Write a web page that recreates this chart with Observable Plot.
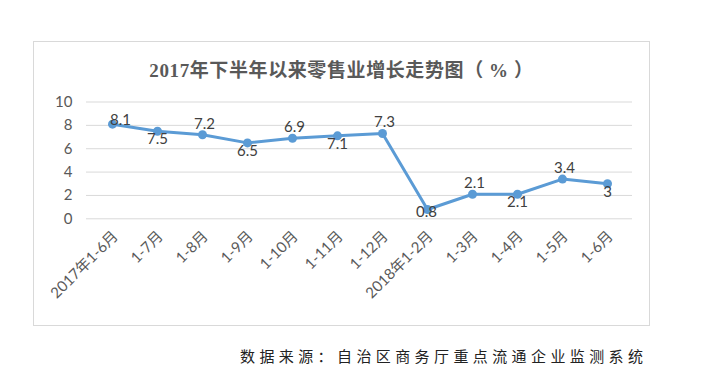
<!DOCTYPE html>
<html>
<head>
<meta charset="utf-8">
<script src="https://cdn.jsdelivr.net/npm/d3@7"></script>
<script src="https://cdn.jsdelivr.net/npm/@observablehq/plot@0.6"></script>
<style>
  html, body { margin: 0; padding: 0; background: #fff; }
  #wrap { position: relative; width: 706px; height: 384px; overflow: hidden; }
  #box { position: absolute; left: 33px; top: 41px; width: 615px; height: 283px; border: 1px solid #d9d9d9; }
  #title { position: absolute; left: 33px; width: 617px; top: 55px; text-align: center;
    font-family: "Liberation Serif", "Noto Sans CJK SC", serif; font-weight: bold; font-size: 19px; letter-spacing: 0.6px; color: #595959; white-space: nowrap; }
  #chart { position: absolute; left: 0; top: 0; }
  #caption { position: absolute; left: 240px; top: 345px; font-family: "Noto Sans CJK SC", sans-serif;
    font-size: 15px; letter-spacing: 4.4px; color: #222; white-space: nowrap; }
</style>
</head>
<body>
<div id="wrap">
  <div id="box"></div>
  <div id="chart"></div>
  <div id="title">2017年下半年以来零售业增长走势图（ % ）</div>
  <div id="caption">数据来源：自治区商务厅重点流通企业监测系统</div>
</div>
<script>
const categories = ["2017年1-6月","1-7月","1-8月","1-9月","1-10月","1-11月","1-12月","2018年1-2月","1-3月","1-4月","1-5月","1-6月"];
const values = [8.1, 7.5, 7.2, 6.5, 6.9, 7.1, 7.3, 0.8, 2.1, 2.1, 3.4, 3];
const labelSide = ["right","below","above","below","above","below","above","center","above","below","above","below"];
const labelText = ["8.1","7.5","7.2","6.5","6.9","7.1","7.3","0.8","2.1","2.1","3.4","3"];
const yTicks = [0, 2, 4, 6, 8, 10];

const data = categories.map((c, i) => ({cat: c, value: values[i], side: labelSide[i], label: labelText[i]}));
const font = "Lato, 'Noto Sans CJK SC', sans-serif";
const lbl = (side, dx, dy) => Plot.text(data.filter(d => d.side === side),
  {x: "cat", y: "value", text: "label", dx, dy, fontSize: 15, fill: "#404040"});

const chart = Plot.plot({
  width: 706,
  height: 340,
  marginLeft: 86,
  marginRight: 74,
  marginTop: 101.5,
  marginBottom: 121.7,
  style: {fontFamily: font, background: "transparent", overflow: "visible"},
  x: {type: "point", domain: categories, padding: 0.5},
  y: {domain: [0, 10]},
  marks: [
    Plot.ruleY(yTicks, {stroke: "#d9d9d9", strokeWidth: 1}),
    Plot.axisY(yTicks, {tickSize: 0, tickPadding: 14, fontSize: 15, fill: "#595959", label: null}),
    Plot.axisX({tickRotate: -45, tickSize: 0, tickPadding: 15, dx: 3, fontSize: 15, fill: "#595959", label: null}),
    Plot.line(data, {x: "cat", y: "value", stroke: "#5B9BD5", strokeWidth: 3}),
    Plot.dot(data, {x: "cat", y: "value", r: 4.5, fill: "#5B9BD5"}),
    lbl("above", 2, -11),
    lbl("below", 0, 8),
    lbl("right", 8, -4),
    lbl("center", -1, 3)
  ]
});
document.getElementById("chart").appendChild(chart);
</script>
</body>
</html>
